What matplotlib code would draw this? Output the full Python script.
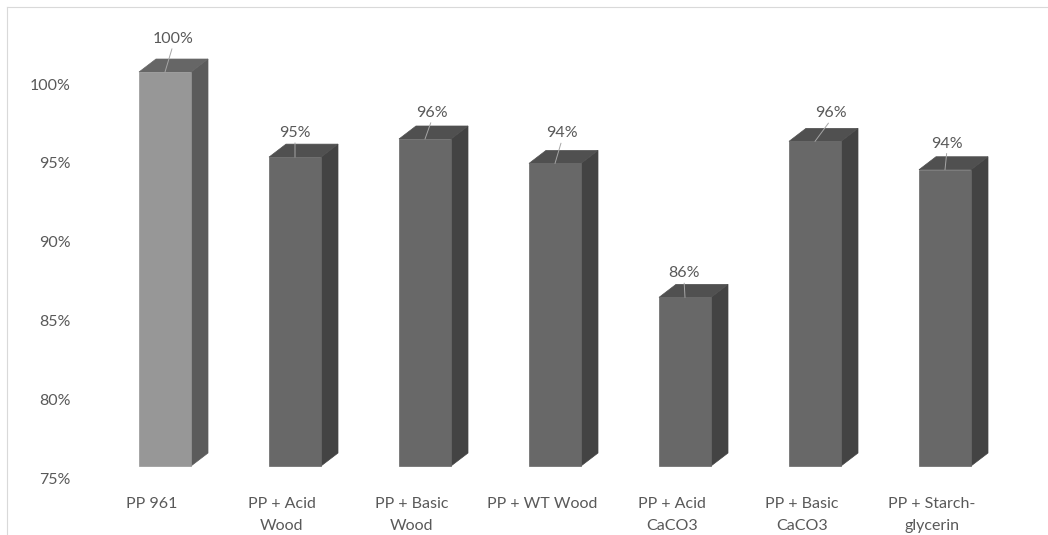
import matplotlib
matplotlib.use("Agg")
import matplotlib.pyplot as plt
from matplotlib.patches import Polygon
from matplotlib.lines import Line2D
from matplotlib.transforms import ScaledTranslation

categories = ["PP 961", "PP + Acid\nWood", "PP + Basic\nWood", "PP + WT Wood",
              "PP + Acid\nCaCO3", "PP + Basic\nCaCO3", "PP + Starch-\nglycerin"]
retention = [100.0, 94.6, 95.75, 94.2, 85.7, 95.6, 93.8]
ytick_values = [75, 80, 85, 90, 95, 100]

# data-label placement (pixels) relative to the front-top centre of each bar
label_dx = [8, 0, 7, 7, -1, 16, 2]
label_dy = [33, 24, 26, 30, 24, 28, 26]

W, H, DPI = 1048, 535, 100
plt.rcParams["font.family"] = ["Lato", "DejaVu Sans"]
TEXT = "#595959"

fig = plt.figure(figsize=(W / DPI, H / DPI), dpi=DPI)
fig.patch.set_facecolor("white")

ax_w_px, ax_h_px = 910, 425.5
ax = fig.add_axes([100 / W, 69 / H, ax_w_px / W, ax_h_px / H])
xlim, ylim = (-0.5, 6.5), (75, 102)
ax.set_xlim(*xlim)
ax.set_ylim(*ylim)

px_x = ax_w_px / (xlim[1] - xlim[0])   # pixels per category unit
px_y = ax_h_px / (ylim[1] - ylim[0])   # pixels per percentage point

half_w = 26 / px_x       # half width of the front face
depth_x = 17 / px_x      # 3-D depth offset
depth_y = 13 / px_y

first_colors = ("#979797", "#5b5b5b", "#666666")   # front, side, top
other_colors = ("#686868", "#434343", "#505050")

base = ylim[0]
for i, v in enumerate(retention):
    front_c, side_c, top_c = first_colors if i == 0 else other_colors
    l, r = i - half_w, i + half_w
    front = [(l, base), (r, base), (r, v), (l, v)]
    side = [(r, base), (r + depth_x, base + depth_y),
            (r + depth_x, v + depth_y), (r, v)]
    top = [(l, v), (r, v), (r + depth_x, v + depth_y), (l + depth_x, v + depth_y)]
    for pts, c in ((side, side_c), (top, top_c), (front, front_c)):
        ax.add_patch(Polygon(pts, closed=True, facecolor=c, edgecolor=c,
                             lw=0.5, clip_on=False, zorder=2))
    ax.annotate(f"{v:.0f}%", xy=(i, v), xytext=(label_dx[i], label_dy[i]),
                textcoords="offset pixels", ha="center", va="center",
                fontsize=11.5, color=TEXT, zorder=4,
                arrowprops=dict(arrowstyle="-", color="#a6a6a6", lw=0.7,
                                shrinkA=0, shrinkB=0, relpos=(0.5, 0.05)))

for s in ax.spines.values():
    s.set_visible(False)

ax.set_xticks(range(len(categories)))
ax.set_xticklabels(categories, fontsize=11.5, color=TEXT, linespacing=1.75)
ax.set_yticks(ytick_values)
ax.set_yticklabels([f"{t}%" for t in ytick_values], fontsize=11.5, color=TEXT)
ax.tick_params(axis="both", length=0)
ax.tick_params(axis="x", pad=22)
ax.tick_params(axis="y", pad=21)

# axis labels sit on the front edge of the 3-D floor
for lbl in ax.get_xticklabels():
    lbl.set_transform(lbl.get_transform() +
                      ScaledTranslation(-13 / DPI, 0, fig.dpi_scale_trans))
for lbl in ax.get_yticklabels():
    lbl.set_transform(lbl.get_transform() +
                      ScaledTranslation(0, -12 / DPI, fig.dpi_scale_trans))

# chart-area border
fig.add_artist(Line2D([6.5 / W, 6.5 / W], [0, 1 - 6.5 / H],
                      transform=fig.transFigure, color="#d9d9d9", lw=0.8))
fig.add_artist(Line2D([6.5 / W, 1], [1 - 6.5 / H, 1 - 6.5 / H],
                      transform=fig.transFigure, color="#d9d9d9", lw=0.8))

fig.savefig("out.png", dpi=DPI, facecolor="white")
